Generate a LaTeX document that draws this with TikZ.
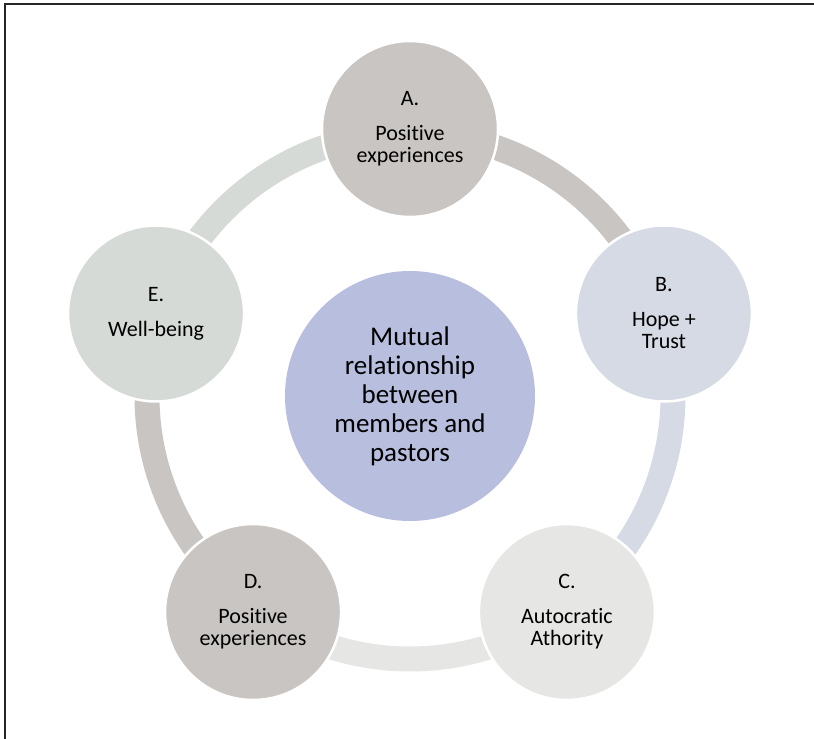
\documentclass[tikz,border=0pt]{standalone}
\usepackage{fontspec}
\setmainfont{Carlito}[Ligatures=NoCommon]

\definecolor{taupe}{HTML}{C9C5C2}
\definecolor{haze}{HTML}{D5DAE5}
\definecolor{mist}{HTML}{E6E6E5}
\definecolor{sage}{HTML}{D6DAD7}
\definecolor{periwinkle}{HTML}{B7BEDE}

\begin{document}
\begin{tikzpicture}[x=1pt, y=1pt,
    stage/.style={circle, draw=white, line width=2.5pt, minimum size=176pt, inner sep=0pt,
      align=center, font=\fontsize{22}{22}\selectfont},
    hub/.style={circle, fill=periwinkle, minimum size=250pt, inner sep=0pt,
      align=center, font=\fontsize{27}{29}\selectfont},
    band/.style={line width=25pt}]
    \useasboundingbox (-410,-343) rectangle (404,396);
    % frame
    \draw [line width=1.2pt, black!85] (-405,-343) -- (-405,392) -- (404,392);
    % ring segments, each in the colour of the stage it leaves
    \draw [band, taupe] (90:263) arc (90:18:263);
    \draw [band, haze] (18:263) arc (18:-54:263);
    \draw [band, mist] (-54:263) arc (-54:-126:263);
    \draw [band, taupe] (-126:263) arc (-126:-198:263);
    \draw [band, sage] (162:263) arc (162:90:263);
    % stages
    \node [stage, fill=taupe] (A) at (90:267) {A.\\[13pt]Positive\\experiences};
    \node [stage, fill=haze] (B) at (18:267) {B.\\[13pt]Hope +\\Trust};
    \node [stage, fill=mist] (C) at (-54:267) {C.\\[13pt]Autocratic\\Athority};
    \node [stage, fill=taupe] (D) at (-126:267) {D.\\[13pt]Positive\\experiences};
    \node [stage, fill=sage] (E) at (162:267) {E.\\[13pt]Well-being};
    \node [hub] (M) at (0,0) {Mutual\\relationship\\between\\members and\\pastors};
\end{tikzpicture}
\end{document}
